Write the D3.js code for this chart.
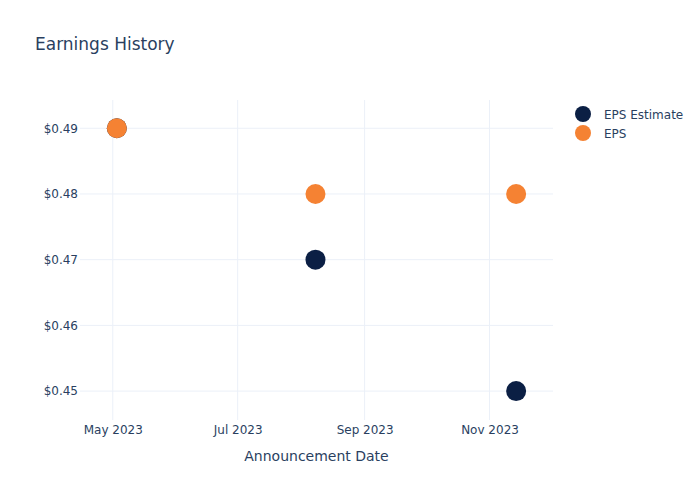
<!DOCTYPE html>
<html>
<head>
<meta charset="utf-8">
<script src="https://cdn.jsdelivr.net/npm/d3@7"></script>
<style>
  html, body { margin: 0; padding: 0; background: #fff; }
  svg { display: block; font-family: "DejaVu Sans", Verdana, sans-serif; }
</style>
</head>
<body>
<svg id="chart" width="700" height="500"></svg>
<script>
const dates = ["2023-05-03", "2023-08-08", "2023-11-14"];
const epsEstimate = [0.49, 0.47, 0.45];
const epsActual = [0.49, 0.48, 0.48];
const seriesNames = ["EPS Estimate", "EPS"];
const seriesColors = ["#0b1f44", "#f58233"];
const xTickDates = ["2023-05-01", "2023-07-01", "2023-09-01", "2023-11-01"];
const yTicks = [0.45, 0.46, 0.47, 0.48, 0.49];

const parse = d3.utcParse("%Y-%m-%d");
const svg = d3.select("#chart");
const margin = { left: 80, right: 147, top: 100, bottom: 80 };
const W = 700, H = 500;

const x = d3.scaleUtc()
  .domain([parse("2023-04-15"), parse("2023-12-02")])
  .range([margin.left, W - margin.right]);
const y = d3.scaleLinear()
  .domain([0.4456, 0.4943])
  .range([H - margin.bottom, margin.top]);

const textColor = "#2a3f5f";
const gridColor = "#ebf0f8";

// grid
const g = svg.append("g");
g.selectAll("line.xg").data(xTickDates).join("line")
  .attr("x1", d => x(parse(d))).attr("x2", d => x(parse(d)))
  .attr("y1", margin.top).attr("y2", H - margin.bottom)
  .attr("stroke", gridColor).attr("stroke-width", 1);
g.selectAll("line.yg").data(yTicks).join("line")
  .attr("x1", margin.left).attr("x2", W - margin.right)
  .attr("y1", d => y(d)).attr("y2", d => y(d))
  .attr("stroke", gridColor).attr("stroke-width", 1);

// axes
const fmtDate = d3.utcFormat("%b %Y");
const xAxis = d3.axisBottom(x).tickValues(xTickDates.map(parse)).tickFormat(fmtDate).tickSize(0).tickPadding(5);
const xg = svg.append("g").attr("transform", `translate(0,${H - margin.bottom})`).call(xAxis);
xg.select(".domain").remove();
xg.selectAll("text").attr("fill", textColor).attr("font-size", 12).attr("font-family", "DejaVu Sans, sans-serif");

const yAxis = d3.axisLeft(y).tickValues(yTicks).tickFormat(d => "$" + d3.format(".2f")(d)).tickSize(0).tickPadding(2);
const yg = svg.append("g").attr("transform", `translate(${margin.left},0)`).call(yAxis);
yg.select(".domain").remove();
yg.selectAll("text").attr("fill", textColor).attr("font-size", 12).attr("font-family", "DejaVu Sans, sans-serif");

// points
const series = [epsEstimate, epsActual];
series.forEach((vals, si) => {
  svg.append("g").selectAll("circle").data(vals).join("circle")
    .attr("cx", (d, i) => x(parse(dates[i])))
    .attr("cy", d => y(d))
    .attr("r", 10)
    .attr("fill", seriesColors[si]);
});

// title
svg.append("text").attr("x", 35).attr("y", 50)
  .attr("fill", textColor).attr("font-size", 17)
  .text("Earnings History");

// x axis title
svg.append("text").attr("x", (margin.left + W - margin.right) / 2).attr("y", 461)
  .attr("text-anchor", "middle").attr("fill", textColor).attr("font-size", 14)
  .text("Announcement Date");

// legend
const lg = svg.append("g");
seriesNames.forEach((name, i) => {
  const ly = 114 + i * 19;
  lg.append("circle").attr("cx", 583).attr("cy", ly).attr("r", 8).attr("fill", seriesColors[i]);
  lg.append("text").attr("x", 604).attr("y", ly + 4.5).attr("fill", textColor).attr("font-size", 12).text(name);
});
</script>
</body>
</html>
